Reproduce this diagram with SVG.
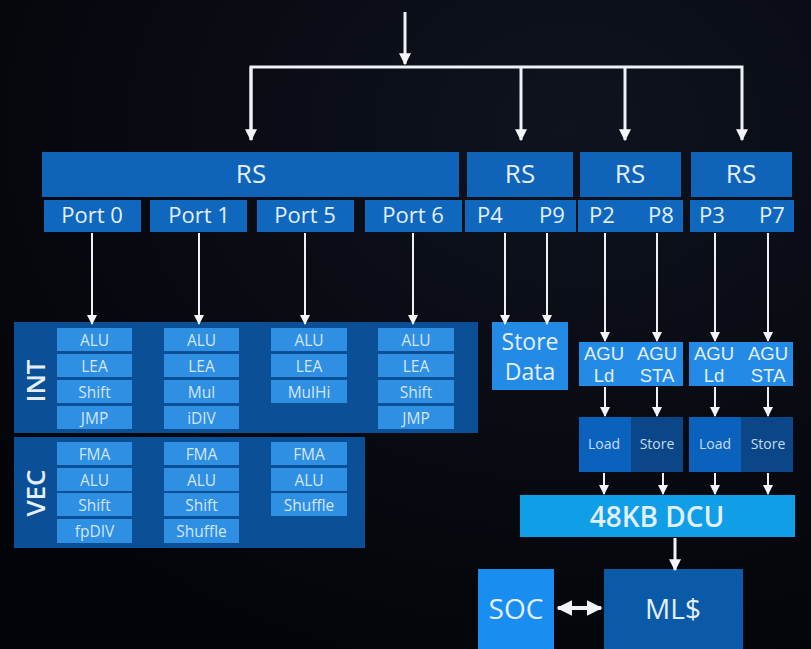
<svg xmlns="http://www.w3.org/2000/svg" width="811" height="649" viewBox="0 0 811 649">
  <defs>
    <marker id="ah" viewBox="0 0 10 10" refX="9" refY="5" markerWidth="4" markerHeight="4" orient="auto-start-reverse" markerUnits="strokeWidth">
      <path d="M0,0 L10,5 L0,10 Z" fill="#f2f4f8"/>
    </marker>
    <marker id="ahs" viewBox="0 0 10 10" refX="9" refY="5" markerWidth="5" markerHeight="5" orient="auto-start-reverse" markerUnits="strokeWidth">
      <path d="M0,0 L10,5 L0,10 Z" fill="#f2f4f8"/>
    </marker>
    <radialGradient id="bg" cx="0.7" cy="0.2" r="0.9">
      <stop offset="0" stop-color="#0f131d"/>
      <stop offset="1" stop-color="#030409"/>
    </radialGradient>
  </defs>
  <style>
    text { font-family: "Open Sans", "Noto Sans", "Liberation Sans", sans-serif; fill: #e3efff; text-anchor: middle; dominant-baseline: central; }
    .rs { fill: #0f63b8; }
    .port { fill: #1068be; }
    .panel { fill: #0b4f96; }
    .cell { fill: #2f8fe3; }
    .cell-t { font-size: 15.5px; fill: #d3e6ff; }
    .big { font-size: 26px; }
    .pt { font-size: 22px; }
    .agu { font-family: "Liberation Sans", "Open Sans", sans-serif; font-size: 18.5px; }
    .side { font-size: 26px; font-weight: 600; }
    .lite { fill: #238be6; }
    .load { fill: #0a62bd; }
    .store { fill: #0a4688; }
    .ls-t { font-size: 14px; fill: #c5dcf5; }
    .dcu { fill: #109ee6; }
    .huge { font-size: 28px; font-weight: 600; }
    .conn { stroke: #eef1f6; fill: none; }
  </style>

  <rect width="811" height="649" fill="url(#bg)"/>

  <!-- reservation stations -->
  <g id="rs-main"><rect class="rs" x="42" y="152" width="417" height="45"/><text class="big" x="251" y="173">RS</text></g>
  <g id="rs-store"><rect class="rs" x="467" y="152" width="106" height="45"/><text class="big" x="520" y="173">RS</text></g>
  <g id="rs-load"><rect class="rs" x="580" y="152" width="101" height="45"/><text class="big" x="630" y="173">RS</text></g>
  <g id="rs-sta"><rect class="rs" x="691" y="152" width="101" height="45"/><text class="big" x="741" y="173">RS</text></g>

  <!-- ports -->
  <g id="port0"><rect class="port" x="44" y="200" width="97" height="32"/><text class="pt" x="92" y="214">Port 0</text></g>
  <g id="port1"><rect class="port" x="150" y="200" width="97" height="32"/><text class="pt" x="199" y="214">Port 1</text></g>
  <g id="port5"><rect class="port" x="257" y="200" width="97" height="32"/><text class="pt" x="305" y="214">Port 5</text></g>
  <g id="port6"><rect class="port" x="365" y="200" width="97" height="32"/><text class="pt" x="413" y="214">Port 6</text></g>
  <g id="p4p9"><rect class="port" x="465" y="200" width="111" height="32"/><text class="pt" x="490" y="214">P4</text><text class="pt" x="552" y="214">P9</text></g>
  <g id="p2p8"><rect class="port" x="578" y="200" width="105" height="32"/><text class="pt" x="602" y="214">P2</text><text class="pt" x="661" y="214">P8</text></g>
  <g id="p3p7"><rect class="port" x="690" y="200" width="104" height="32"/><text class="pt" x="712" y="214">P3</text><text class="pt" x="772" y="214">P7</text></g>

  <!-- integer execution units -->
  <g id="int">
    <rect class="panel" x="14" y="322" width="464" height="111"/>
    <text class="side" transform="translate(35 381) rotate(-90)">INT</text>
    <g>
      <rect class="cell" x="57" y="328" width="75" height="23"/><text class="cell-t" x="94.5" y="339.5">ALU</text>
      <rect class="cell" x="57" y="354" width="75" height="23"/><text class="cell-t" x="94.5" y="365.5">LEA</text>
      <rect class="cell" x="57" y="380" width="75" height="23"/><text class="cell-t" x="94.5" y="391.5">Shift</text>
      <rect class="cell" x="57" y="406" width="75" height="23"/><text class="cell-t" x="94.5" y="417.5">JMP</text>
    </g>
    <g>
      <rect class="cell" x="164" y="328" width="75" height="23"/><text class="cell-t" x="201.5" y="339.5">ALU</text>
      <rect class="cell" x="164" y="354" width="75" height="23"/><text class="cell-t" x="201.5" y="365.5">LEA</text>
      <rect class="cell" x="164" y="380" width="75" height="23"/><text class="cell-t" x="201.5" y="391.5">Mul</text>
      <rect class="cell" x="164" y="406" width="75" height="23"/><text class="cell-t" x="201.5" y="417.5">iDIV</text>
    </g>
    <g>
      <rect class="cell" x="271" y="328" width="76" height="23"/><text class="cell-t" x="309" y="339.5">ALU</text>
      <rect class="cell" x="271" y="354" width="76" height="23"/><text class="cell-t" x="309" y="365.5">LEA</text>
      <rect class="cell" x="271" y="380" width="76" height="23"/><text class="cell-t" x="309" y="391.5">MulHi</text>
    </g>
    <g>
      <rect class="cell" x="378" y="328" width="76" height="23"/><text class="cell-t" x="416" y="339.5">ALU</text>
      <rect class="cell" x="378" y="354" width="76" height="23"/><text class="cell-t" x="416" y="365.5">LEA</text>
      <rect class="cell" x="378" y="380" width="76" height="23"/><text class="cell-t" x="416" y="391.5">Shift</text>
      <rect class="cell" x="378" y="406" width="76" height="23"/><text class="cell-t" x="416" y="417.5">JMP</text>
    </g>
  </g>

  <!-- vector execution units -->
  <g id="vec">
    <rect class="panel" x="14" y="437" width="351" height="111"/>
    <text class="side" transform="translate(35 493) rotate(-90)">VEC</text>
    <g>
      <rect class="cell" x="57" y="442" width="75" height="23"/><text class="cell-t" x="94.5" y="453.5">FMA</text>
      <rect class="cell" x="57" y="468" width="75" height="23"/><text class="cell-t" x="94.5" y="479.5">ALU</text>
      <rect class="cell" x="57" y="493" width="75" height="23"/><text class="cell-t" x="94.5" y="504.5">Shift</text>
      <rect class="cell" x="57" y="519" width="75" height="24"/><text class="cell-t" x="94.5" y="531">fpDIV</text>
    </g>
    <g>
      <rect class="cell" x="164" y="442" width="75" height="23"/><text class="cell-t" x="201.5" y="453.5">FMA</text>
      <rect class="cell" x="164" y="468" width="75" height="23"/><text class="cell-t" x="201.5" y="479.5">ALU</text>
      <rect class="cell" x="164" y="493" width="75" height="23"/><text class="cell-t" x="201.5" y="504.5">Shift</text>
      <rect class="cell" x="164" y="519" width="75" height="24"/><text class="cell-t" x="201.5" y="531">Shuffle</text>
    </g>
    <g>
      <rect class="cell" x="271" y="442" width="76" height="23"/><text class="cell-t" x="309" y="453.5">FMA</text>
      <rect class="cell" x="271" y="468" width="76" height="23"/><text class="cell-t" x="309" y="479.5">ALU</text>
      <rect class="cell" x="271" y="493" width="76" height="23"/><text class="cell-t" x="309" y="504.5">Shuffle</text>
    </g>
  </g>

  <!-- memory pipeline -->
  <g id="store-data"><rect class="lite" x="492" y="322" width="76" height="68"/><text class="pt" x="530" y="341" style="font-size:23px">Store</text><text class="pt" x="530" y="371" style="font-size:23px">Data</text></g>
  <g id="agu-a"><rect class="lite" x="579" y="342" width="104" height="44"/>
    <text class="agu" x="604" y="353">AGU</text><text class="agu" x="604" y="375">Ld</text>
    <text class="agu" x="657" y="353">AGU</text><text class="agu" x="657" y="375">STA</text></g>
  <g id="agu-b"><rect class="lite" x="689" y="342" width="104" height="44"/>
    <text class="agu" x="714" y="353">AGU</text><text class="agu" x="714" y="375">Ld</text>
    <text class="agu" x="768" y="353">AGU</text><text class="agu" x="768" y="375">STA</text></g>
  <g id="ldst-a"><rect class="load" x="579" y="417" width="52" height="55"/><rect class="store" x="631" y="417" width="52" height="55"/>
    <text class="ls-t" x="604" y="443">Load</text><text class="ls-t" x="657" y="443">Store</text></g>
  <g id="ldst-b"><rect class="load" x="689" y="417" width="52" height="55"/><rect class="store" x="741" y="417" width="52" height="55"/>
    <text class="ls-t" x="715" y="443">Load</text><text class="ls-t" x="768" y="443">Store</text></g>
  <g id="dcu"><rect class="dcu" x="520" y="495" width="275" height="42"/><text class="huge" x="657" y="516">48KB DCU</text></g>
  <g id="soc"><rect fill="#1a8ef0" x="478" y="569" width="76" height="80"/><text class="huge" x="516" y="608" style="font-weight:400">SOC</text></g>
  <g id="mlc"><rect fill="#0b5aa8" x="604" y="569" width="139" height="80"/><text class="huge" x="673" y="608" style="font-weight:400">ML$</text></g>

  <!-- connectors -->
  <g id="connectors" class="conn">
    <line x1="405" y1="12" x2="405" y2="64" stroke-width="3" marker-end="url(#ah)"/>
    <polyline points="251,140 251,67 742,67 742,140" stroke-width="3" marker-end="url(#ah)"/>
    <line x1="251" y1="67" x2="251" y2="140" stroke-width="3" marker-end="url(#ah)"/>
    <line x1="521" y1="67" x2="521" y2="140" stroke-width="3" marker-end="url(#ah)"/>
    <line x1="625" y1="67" x2="625" y2="140" stroke-width="3" marker-end="url(#ah)"/>

    <g stroke-width="2" marker-end="url(#ahs)">
      <line x1="92" y1="233" x2="92" y2="324"/>
      <line x1="199" y1="233" x2="199" y2="324"/>
      <line x1="305" y1="233" x2="305" y2="324"/>
      <line x1="413" y1="233" x2="413" y2="324"/>
      <line x1="505" y1="233" x2="505" y2="324"/>
      <line x1="547" y1="233" x2="547" y2="324"/>
      <line x1="605" y1="233" x2="605" y2="341"/>
      <line x1="657" y1="233" x2="657" y2="341"/>
      <line x1="715" y1="233" x2="715" y2="341"/>
      <line x1="768" y1="233" x2="768" y2="341"/>
      <line x1="605" y1="387" x2="605" y2="416"/>
      <line x1="657" y1="387" x2="657" y2="416"/>
      <line x1="715" y1="387" x2="715" y2="416"/>
      <line x1="768" y1="387" x2="768" y2="416"/>
      <line x1="604" y1="473" x2="604" y2="494"/>
      <line x1="663" y1="473" x2="663" y2="494"/>
      <line x1="715" y1="473" x2="715" y2="494"/>
      <line x1="768" y1="473" x2="768" y2="494"/>
    </g>
    <line x1="675" y1="538" x2="675" y2="570" stroke-width="3" marker-end="url(#ah)"/>
    <line x1="558" y1="608" x2="601" y2="608" stroke-width="4" marker-start="url(#ah)" marker-end="url(#ah)"/>
  </g>
</svg>
